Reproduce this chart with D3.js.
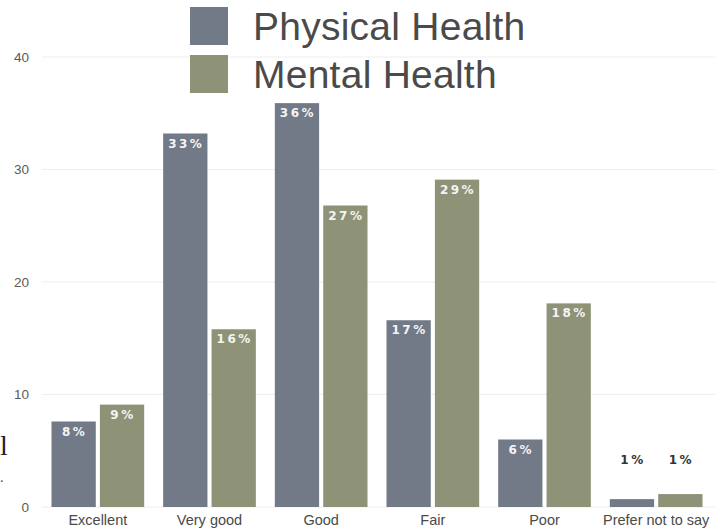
<!DOCTYPE html>
<html>
<head>
<meta charset="utf-8">
<script src="https://cdn.jsdelivr.net/npm/d3@7"></script>
<style>
  html, body { margin: 0; padding: 0; background: #ffffff; }
  svg { display: block; }
</style>
</head>
<body>
<svg id="chart" width="715" height="531"></svg>
<script>
// Self-rated health, share of respondents (%)
const categories = ["Excellent", "Very good", "Good", "Fair", "Poor", "Prefer not to say"];
const seriesNames = ["Physical Health", "Mental Health"];
const physical = [7.6, 33.2, 35.9, 16.6, 6.0, 0.7];
const mental = [9.1, 15.8, 26.8, 29.1, 18.1, 1.15];
const yTicks = [0, 10, 20, 30, 40];

const colors = { "Physical Health": "#717a86", "Mental Health": "#8e9377" };

const rows = categories.map((c, i) => ({
  category: c,
  values: [
    { series: "Physical Health", value: physical[i] },
    { series: "Mental Health", value: mental[i] }
  ]
}));

const svg = d3.select("#chart");
const W = 715, H = 531;
const plot = { left: 42, right: 712, top: 57, bottom: 507 };

const y = d3.scaleLinear().domain([0, 40]).range([plot.bottom, plot.top]);
const x0 = d3.scaleBand().domain(categories).range([plot.left, plot.right])
  .paddingInner(0.17).paddingOuter(0.085);
const x1 = d3.scaleBand().domain(seriesNames).range([0, x0.bandwidth()])
  .paddingInner(0.085);

// horizontal grid
svg.append("g")
  .selectAll("line")
  .data(yTicks)
  .join("line")
  .attr("x1", plot.left).attr("x2", W)
  .attr("y1", d => y(d)).attr("y2", d => y(d))
  .attr("stroke", "#eeeeee").attr("stroke-width", 1);

// y axis labels
const yAxis = d3.axisLeft(y).tickValues(yTicks).tickSize(0).tickPadding(0);
svg.append("g")
  .attr("transform", `translate(29,0)`)
  .call(yAxis)
  .call(g => g.select(".domain").remove())
  .selectAll("text")
  .attr("font-family", "Liberation Sans, Arial, sans-serif")
  .attr("font-size", "13.5px")
  .attr("fill", "#5a5a5a");

// x axis labels
const xAxis = d3.axisBottom(x0).tickSize(0).tickPadding(0);
svg.append("g")
  .attr("transform", `translate(0,${plot.bottom + 8})`)
  .call(xAxis)
  .call(g => g.select(".domain").remove())
  .selectAll("text")
  .attr("font-family", "Liberation Sans, Arial, sans-serif")
  .attr("font-size", "14.5px")
  .attr("fill", "#4a4a4a");

// bars
const groups = svg.append("g")
  .selectAll("g")
  .data(rows)
  .join("g")
  .attr("transform", d => `translate(${x0(d.category)},0)`);

groups.selectAll("rect")
  .data(d => d.values)
  .join("rect")
  .attr("x", d => x1(d.series))
  .attr("width", x1.bandwidth())
  .attr("y", d => y(d.value))
  .attr("height", d => y(0) - y(d.value))
  .attr("fill", d => colors[d.series]);

// value labels: inside the top of tall bars, above the short ones
groups.selectAll("text.val")
  .data(d => d.values)
  .join("text")
  .attr("class", "val")
  .attr("x", d => x1(d.series) + x1.bandwidth() / 2 + 1)
  .attr("y", d => d.value < 3 ? y(4.2) + 4 : y(d.value) + 14)
  .attr("text-anchor", "middle")
  .attr("font-family", "DejaVu Sans, Verdana, sans-serif")
  .attr("font-weight", "bold")
  .attr("font-size", "12px")
  .attr("letter-spacing", "2.5px")
  .attr("fill", d => d.value < 3 ? "#333333" : "#f4f4f4")
  .text(d => Math.round(d.value) + "%");

// legend
const legend = svg.append("g");
seriesNames.forEach((s, i) => {
  const row = legend.append("g").attr("transform", `translate(190,${7 + i * 48})`);
  row.append("rect")
    .attr("width", 38).attr("height", 38)
    .attr("fill", colors[s]);
  row.append("text")
    .attr("x", 63).attr("y", 33)
    .attr("font-family", "Liberation Sans, Arial, sans-serif")
    .attr("font-size", "39px")
    .attr("letter-spacing", "0.25px")
    .attr("fill", "#4a4a4a")
    .text(s);
});

// stray glyphs at the left edge
svg.append("text")
  .attr("x", 0).attr("y", 455)
  .attr("font-family", "Liberation Serif, Times New Roman, serif")
  .attr("font-size", "28px")
  .attr("fill", "#222")
  .text("l");
svg.append("text")
  .attr("x", 0).attr("y", 482)
  .attr("font-family", "Liberation Serif, Times New Roman, serif")
  .attr("font-size", "14px")
  .attr("fill", "#444")
  .text(".");
</script>
</body>
</html>
